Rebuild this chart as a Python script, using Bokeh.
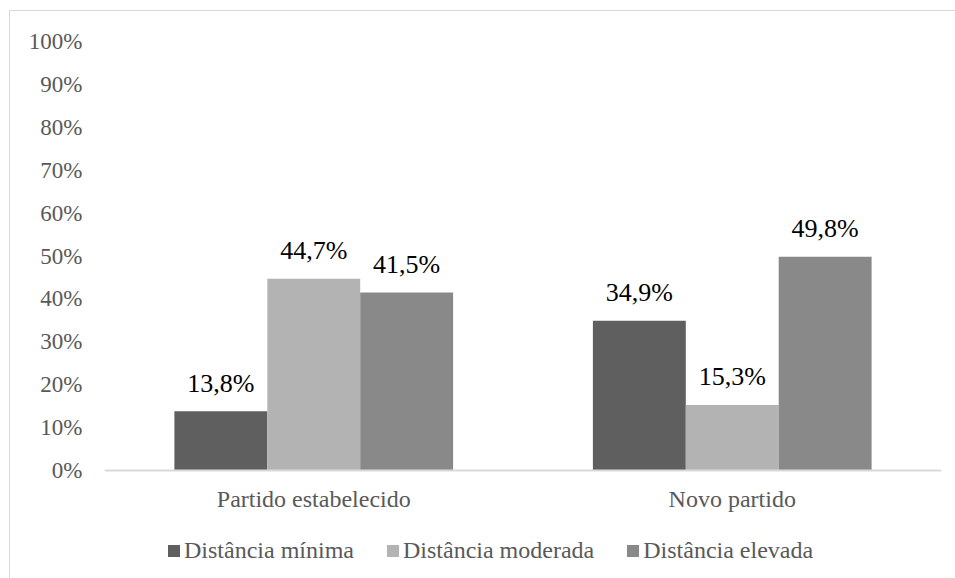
from bokeh.plotting import figure
from bokeh.models import (ColumnDataSource, FactorRange, Range1d, FixedTicker,
                          PrintfTickFormatter, Legend, LegendItem, Span)
from bokeh.transform import dodge
from bokeh.core.properties import value
from bokeh.embed import file_html
from bokeh.resources import INLINE

categories = ["Partido estabelecido", "Novo partido"]
series = ["Distância mínima", "Distância moderada", "Distância elevada"]
minima = [13.8, 34.9]
moderada = [44.7, 15.3]
elevada = [41.5, 49.8]
colors = ["#5f5f5f", "#b3b3b3", "#898989"]
y_ticks = [0, 10, 20, 30, 40, 50, 60, 70, 80, 90, 100]

FONT = "Liberation Serif"

p = figure(
    width=946, height=568,
    x_range=FactorRange(*categories, range_padding=0),
    y_range=Range1d(-25.4, 100),
    output_backend="svg", toolbar_location=None,
    min_border_left=94, min_border_right=15, min_border_top=30, min_border_bottom=0,
)
p.margin = (10, 0, 0, 9)
p.styles = {"border-left": "1px solid #d9d9d9", "border-top": "1px solid #d9d9d9"}
p.outline_line_color = None
p.xgrid.visible = False
p.ygrid.visible = False
p.xaxis.visible = False

# baseline (category axis line)
p.add_layout(Span(location=0, dimension="width", line_color="#d9d9d9", line_width=2))

bar_w = 0.222
offsets = [-bar_w, 0.0, bar_w]
values_list = [minima, moderada, elevada]

items = []
for name, vals, col, off in zip(series, values_list, colors, offsets):
    src = ColumnDataSource(dict(
        cat=categories,
        val=vals,
        lab=[f"{v:.1f}".replace(".", ",") + "%" for v in vals],
    ))
    x = dodge("cat", off, range=p.x_range)
    r = p.vbar(x=x, top="val", width=bar_w, source=src, fill_color=col,
               line_color=None)
    items.append(LegendItem(label=name, renderers=[r]))
    p.text(x=x, y="val", text="lab", source=src, text_align="center",
           text_baseline="middle", y_offset=-28, text_color="#000000",
           text_font=value(FONT), text_font_size="26px")

# category labels
cat_src = ColumnDataSource(dict(cat=categories, y0=[0] * len(categories)))
p.text(x="cat", y="y0", text="cat", source=cat_src, text_align="center",
       text_baseline="middle", y_offset=28, text_color="#595959",
       text_font=value(FONT), text_font_size="24px")

ya = p.yaxis[0]
ya.ticker = FixedTicker(ticks=y_ticks)
ya.formatter = PrintfTickFormatter(format="%d%%")
ya.axis_line_color = None
ya.major_tick_line_color = None
ya.minor_tick_line_color = None
ya.major_label_text_font = FONT
ya.major_label_text_font_size = "23px"
ya.major_label_text_color = "#595959"
ya.major_label_standoff = 16

lg = Legend(items=items, orientation="horizontal", location=(62, 15))
lg.border_line_color = None
lg.background_fill_alpha = 0
lg.padding = 0
lg.margin = 0
lg.spacing = 31
lg.label_standoff = 3
lg.glyph_width = 15
lg.glyph_height = 15
lg.label_text_font = FONT
lg.label_text_font_size = "24px"
lg.label_text_color = "#595959"
p.add_layout(lg, "center")

open("out.html", "w").write(file_html(p, INLINE))
